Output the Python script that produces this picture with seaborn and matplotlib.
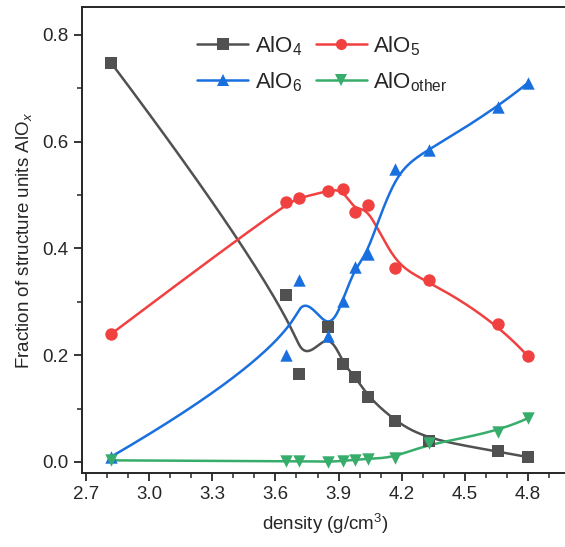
import numpy as np
import pandas as pd
import matplotlib
matplotlib.use("Agg")
import matplotlib.pyplot as plt
from matplotlib.lines import Line2D
import seaborn as sns

# densities (g/cm3)
density = [2.82, 3.65, 3.71, 3.85, 3.92, 3.98, 4.04, 4.17, 4.33, 4.66, 4.80]

# fractions of each unit
alo4 = [0.747, 0.312, 0.164, 0.253, 0.183, 0.160, 0.122, 0.076, 0.039, 0.020, 0.009]
alo5 = [0.240, 0.486, 0.494, 0.508, 0.512, 0.468, 0.481, 0.364, 0.340, 0.259, 0.198]
alo6 = [0.010, 0.200, 0.340, 0.236, 0.302, 0.366, 0.389, 0.549, 0.584, 0.665, 0.710]
alo_other = [0.003, 0.001, 0.002, 0.000, 0.002, 0.004, 0.006, 0.008, 0.036, 0.056, 0.082]

labels = ["AlO$_4$", "AlO$_5$", "AlO$_6$", "AlO$_{\\mathrm{other}}$"]
colors = ["#515151", "#F14040", "#1A6FDF", "#37AD6B"]
markers = ["s", "o", "^", "v"]

x_ticks = [2.7, 3.0, 3.3, 3.6, 3.9, 4.2, 4.5, 4.8]
y_ticks = [0.0, 0.2, 0.4, 0.6, 0.8]


def bspline(px, py, k=3, num=400):
    # clamped uniform B-spline, data points used as control points
    px = np.asarray(px, float)
    py = np.asarray(py, float)
    n = len(px)
    knots = np.concatenate([np.zeros(k), np.arange(n - k + 1), np.full(k, n - k)]).astype(float)
    t = np.linspace(0, n - k, num)
    N = np.zeros((num, len(knots) - 1))
    for i in range(len(knots) - 1):
        N[:, i] = (knots[i] <= t) & (t < knots[i + 1])
    last = max(i for i in range(len(knots) - 1) if knots[i] < knots[i + 1])
    N[-1, last] = 1.0
    for d in range(1, k + 1):
        Nn = np.zeros((num, len(knots) - 1 - d))
        for i in range(len(knots) - 1 - d):
            a = knots[i + d] - knots[i]
            b = knots[i + d + 1] - knots[i + 1]
            if a > 0:
                Nn[:, i] += (t - knots[i]) / a * N[:, i]
            if b > 0:
                Nn[:, i] += (knots[i + d + 1] - t) / b * N[:, i + 1]
        N = Nn
    return N @ px, N @ py


sns.set_style("ticks")
plt.rcParams["font.family"] = ["Liberation Sans", "DejaVu Sans"]
plt.rcParams["mathtext.fontset"] = "custom"
plt.rcParams["mathtext.rm"] = "Liberation Sans"
plt.rcParams["mathtext.it"] = "Liberation Sans:italic"
plt.rcParams["mathtext.bf"] = "Liberation Sans:bold"

fig = plt.figure(figsize=(5.65, 5.47), dpi=100)
ax = fig.add_axes([0.145, 0.135, 0.86, 0.852])

series = [alo4, alo5, alo6, alo_other]
handles = []
for vals, lab, col, mk in zip(series, labels, colors, markers):
    sx, sy = bspline(density, vals)
    curve = pd.DataFrame({"x": sx, "y": sy})
    sns.lineplot(data=curve, x="x", y="y", sort=False, estimator=None,
                 color=col, linewidth=1.8, ax=ax)
    pts = pd.DataFrame({"x": density, "y": vals})
    sns.scatterplot(data=pts, x="x", y="y", marker=mk, s=80, color=col,
                    linewidth=0, ax=ax, zorder=3)
    handles.append(Line2D([], [], color=col, marker=mk, markersize=8,
                          linewidth=1.8, markeredgewidth=0, label=lab))

ax.set_xlim(2.68, 4.99)
ax.set_ylim(-0.021, 0.852)
ax.set_xticks(x_ticks)
ax.set_yticks(y_ticks)
ax.set_xticks(np.arange(2.8, 5.0, 0.1).round(1), minor=True)
ax.set_yticks([0.1, 0.3, 0.5, 0.7], minor=True)
ax.set_xticklabels([f"{v:.1f}" for v in x_ticks])
ax.set_yticklabels([f"{v:.1f}" for v in y_ticks])
ax.tick_params(which="major", direction="out", length=6, width=1.3, labelsize=13.5)
ax.tick_params(which="minor", direction="out", length=3.5, width=1.1)

for sp in ax.spines.values():
    sp.set_linewidth(1.4)
    sp.set_visible(True)

ax.set_xlabel("density (g/cm$^3$)", fontsize=13.5, labelpad=6)
ax.set_ylabel("Fraction of structure units AlO$_x$", fontsize=13.5, labelpad=6)

# legend fills column by column: reorder so rows read AlO4, AlO5 / AlO6, AlOother
order = [0, 2, 1, 3]
ax.legend(handles=[handles[i] for i in order], ncol=2, loc="upper center",
          bbox_to_anchor=(0.495, 0.985), frameon=False, fontsize=16,
          handlelength=2.3, handletextpad=0.3, columnspacing=0.6, labelspacing=0.55)

fig.savefig("out.png", dpi=100)
